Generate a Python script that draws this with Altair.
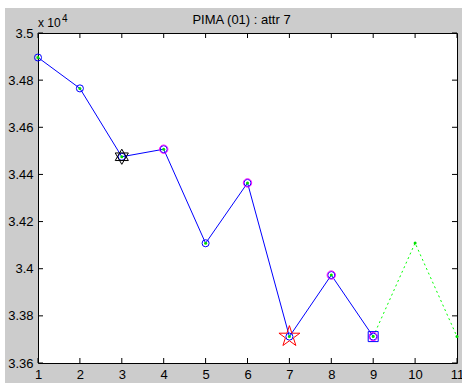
import altair as alt
import pandas as pd

# Data (values shown in units of 10^4)
iterations = [1, 2, 3, 4, 5, 6, 7, 8, 9, 10, 11]
values = [3.4896, 3.4765, 3.4475, 3.4507, 3.4108, 3.4364, 3.3712, 3.3973, 3.3712, 3.4109, 3.3712]
solid_until = 9
magenta_iters = [4, 6, 8, 9]
hexagram_iters = [3]
pentagram_iters = [7]
square_iters = [9]
x_ticks = [1, 2, 3, 4, 5, 6, 7, 8, 9, 10, 11]
y_ticks = [3.36, 3.38, 3.40, 3.42, 3.44, 3.46, 3.48, 3.50]
title_text = "PIMA (01) : attr 7"

W, H = 419, 330
FONT = "Liberation Sans"

df = pd.DataFrame({"it": iterations, "v": values})
df_solid = df[df.it <= solid_until]
df_dash = df[df.it >= solid_until]
df_mag = df[df.it.isin(magenta_iters)]
df_hex = df[df.it.isin(hexagram_iters)]
df_pent = df[df.it.isin(pentagram_iters)]
df_sq = df[df.it.isin(square_iters)]
df_xt = pd.DataFrame({"t": x_ticks})
df_yt = pd.DataFrame({"t": y_ticks})
one = pd.DataFrame({"k": [0]})

xs = alt.Scale(domain=[1, 11], nice=False, zero=False)
ys = alt.Scale(domain=[3.36, 3.5], nice=False, zero=False)

X = alt.X("it:Q", scale=xs, axis=alt.Axis(values=x_ticks, format="d", title=None, grid=False,
                                            ticks=False, domain=False, labelFontSize=13, labelFont=FONT,
                                            labelColor="black", labelPadding=5, labelFlush=False))
Y = alt.Y("v:Q", scale=ys, axis=alt.Axis(values=y_ticks, format=".2~f", title=None, grid=False,
                                          ticks=False, domain=False, labelFontSize=13, labelFont=FONT,
                                          labelColor="black", labelPadding=5, labelFlush=False))
Xp = alt.X("it:Q", scale=xs)
Yp = alt.Y("v:Q", scale=ys)

# white page strips at the top and left of the grey figure
strip_top = alt.Chart(one).mark_rect(color="white").encode(
    x=alt.value(-38), x2=alt.value(W + 5), y=alt.value(-33), y2=alt.value(-25))
strip_left = alt.Chart(one).mark_rect(color="white").encode(
    x=alt.value(-38), x2=alt.value(-33), y=alt.value(-33), y2=alt.value(H + 20))

blue_line = alt.Chart(df_solid).mark_line(color="#0000ff", strokeWidth=1).encode(x=X, y=Y)
green_line = alt.Chart(df_dash).mark_line(color="#00ff00", strokeWidth=1, strokeDash=[2, 3]).encode(x=Xp, y=Yp)

blue_circ = alt.Chart(df_solid).mark_point(shape="circle", filled=False, color="#0000ff", size=50,
                                           strokeWidth=1, opacity=1).encode(x=Xp, y=Yp)
mag_circ = alt.Chart(df_mag).mark_point(shape="circle", filled=False, color="#ff00ff", size=70,
                                        strokeWidth=1, opacity=1).encode(x=Xp, y=Yp)
green_dot = alt.Chart(df).mark_point(shape="circle", filled=True, color="#00dd00", size=9,
                                     opacity=1).encode(x=Xp, y=Yp)

hexagram = "M0,-1L0.866,0.5L-0.866,0.5Z M0,1L0.866,-0.5L-0.866,-0.5Z"
pentagram = ("M0,-1L0.2245,-0.309L0.951,-0.309L0.3633,0.118L0.5878,0.809L0,0.382"
             "L-0.5878,0.809L-0.3633,0.118L-0.951,-0.309L-0.2245,-0.309Z")
hex_m = alt.Chart(df_hex).mark_point(shape=hexagram, filled=False, color="black", size=230,
                                     strokeWidth=1, opacity=1).encode(x=Xp, y=Yp)
pent_m = alt.Chart(df_pent).mark_point(shape=pentagram, filled=False, color="#ff0000", size=484,
                                       strokeWidth=1, opacity=1).encode(x=Xp, y=Yp)
sq_m = alt.Chart(df_sq).mark_point(shape="square", filled=False, color="#0000ff", size=100,
                                   strokeWidth=1, opacity=1).encode(x=Xp, y=Yp)

tk = dict(color="black", strokeWidth=1)
t_bottom = alt.Chart(df_xt).mark_rule(**tk).encode(x=alt.X("t:Q", scale=xs), y=alt.value(H), y2=alt.value(H - 5))
t_top = alt.Chart(df_xt).mark_rule(**tk).encode(x=alt.X("t:Q", scale=xs), y=alt.value(0), y2=alt.value(5))
t_left = alt.Chart(df_yt).mark_rule(**tk).encode(y=alt.Y("t:Q", scale=ys), x=alt.value(0), x2=alt.value(5))
t_right = alt.Chart(df_yt).mark_rule(**tk).encode(y=alt.Y("t:Q", scale=ys), x=alt.value(W), x2=alt.value(W - 5))

title = alt.Chart(pd.DataFrame({"s": [title_text]})).mark_text(
    font=FONT, fontSize=13, color="black", align="center", baseline="middle"
).encode(text="s:N", x=alt.value(203.5), y=alt.value(-13))
exp_base = alt.Chart(pd.DataFrame({"s": ["x 10"]})).mark_text(
    font=FONT, fontSize=12, color="black", align="left", baseline="alphabetic"
).encode(text="s:N", x=alt.value(0), y=alt.value(-6))
exp_pow = alt.Chart(pd.DataFrame({"s": ["4"]})).mark_text(
    font=FONT, fontSize=10, color="black", align="left", baseline="alphabetic"
).encode(text="s:N", x=alt.value(24), y=alt.value(-11))

chart = alt.layer(
    strip_top, strip_left,
    blue_line, green_line, blue_circ, mag_circ, green_dot, hex_m, pent_m, sq_m,
    t_bottom, t_top, t_left, t_right, title, exp_base, exp_pow
).properties(
    width=W, height=H,
    autosize=alt.AutoSizeParams(type="none"),
    padding={"left": 38, "top": 33, "right": 5, "bottom": 20},
    background="#cccccc",
).configure_view(fill="white", stroke="black", strokeWidth=1)

chart.save("out.html", embed_options={"renderer": "svg", "actions": False})
